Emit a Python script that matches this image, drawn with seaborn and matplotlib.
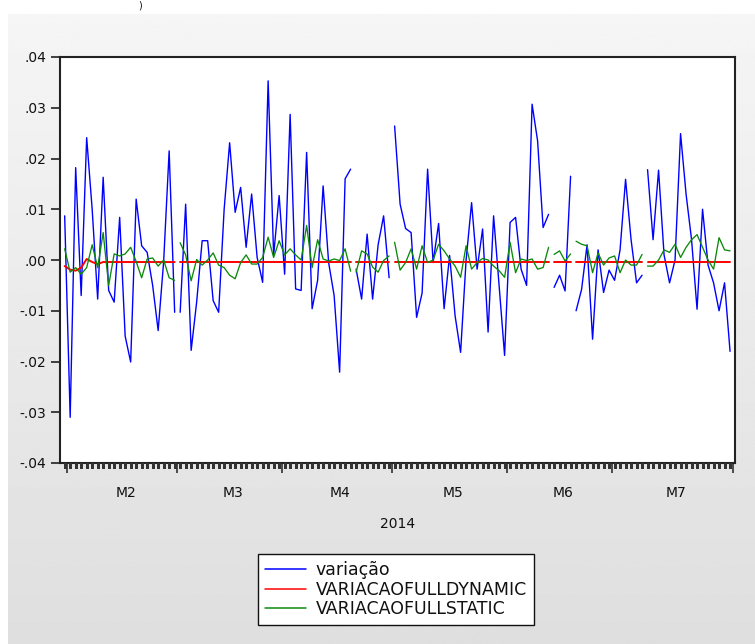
import numpy as np
import pandas as pd
import matplotlib
matplotlib.use("Agg")
import matplotlib.pyplot as plt
from matplotlib.lines import Line2D
from matplotlib.ticker import FixedLocator, FuncFormatter, NullFormatter
from matplotlib.transforms import blended_transform_factory
import seaborn as sns

sns.set_theme(style="white")
plt.rcParams["font.family"] = ["DejaVu Sans"]
plt.rcParams.update({
    "xtick.bottom": True, "ytick.left": True,
    "xtick.direction": "out", "ytick.direction": "out",
    "xtick.color": "#222222", "ytick.color": "#222222",
})

# Trading sessions (B3 calendar): weekdays minus exchange holidays
START, END = "2014-01-31", "2014-07-31"
HOLIDAYS = ["2014-03-03", "2014-03-04", "2014-04-18", "2014-04-21",
            "2014-05-01", "2014-06-12", "2014-06-19", "2014-07-09"]

SERIES = ["variação", "VARIACAOFULLDYNAMIC", "VARIACAOFULLSTATIC"]
COLORS = ["#0000ff", "#ff0000", "#0a8a0a"]
MONTH_LABELS = ["M2", "M3", "M4", "M5", "M6", "M7"]
YEAR_LABEL = "2014"
Y_TICKS = [-0.04, -0.03, -0.02, -0.01, 0.00, 0.01, 0.02, 0.03, 0.04]

# daily variation
variacao = [
    0.0087, -0.0310, 0.0182, -0.0070, 0.0241, 0.0100, -0.0077, 0.0163, -0.0060, -0.0083,
    0.0084, -0.0150, -0.0201, 0.0120, 0.0028, 0.0015, -0.0050, -0.0139, -0.0003, 0.0215,
    -0.0103,
    -0.0103, 0.0110, -0.0178, -0.0083, 0.0038, 0.0038, -0.0080, -0.0103, 0.0100, 0.0231,
    0.0094, 0.0143, 0.0025, 0.0130, 0.0005, -0.0044, 0.0353, 0.0009, 0.0127, -0.0028,
    0.0287, -0.0057, -0.0060, 0.0212, -0.0096, -0.0040, 0.0146, -0.0005, -0.0070, -0.0221,
    0.0160, 0.0179,
    -0.0018, -0.0077, 0.0051, -0.0077, 0.0030, 0.0087, -0.0035,
    0.0264, 0.0110, 0.0062, 0.0054, -0.0113, -0.0065, 0.0179, -0.0005, 0.0072, -0.0096,
    0.0009, -0.0110, -0.0182, 0.0000, 0.0113, -0.0018, 0.0061, -0.0142, 0.0087, -0.0050,
    -0.0188, 0.0074, 0.0084, -0.0018, -0.0050, 0.0307, 0.0235, 0.0064, 0.0090,
    -0.0054, -0.0030, -0.0061, 0.0165,
    -0.0100, -0.0058, 0.0030, -0.0156, 0.0020, -0.0064, -0.0020, -0.0040, 0.0020, 0.0159,
    0.0040, -0.0045, -0.0030,
    0.0178, 0.0040, 0.0177, 0.0010, -0.0045, 0.0000, 0.0249, 0.0130, 0.0040, -0.0097,
    0.0100, -0.0010, -0.0045, -0.0100, -0.0045, -0.0180,
]

# dynamic forecast
full_dynamic = [
    -0.0012, -0.0019, -0.0021, -0.0015, 0.0002, -0.0004, -0.0008, -0.0004, -0.0004, -0.0004,
    -0.0004, -0.0004, -0.0004, -0.0004, -0.0004, -0.0004, -0.0004, -0.0004, -0.0004, -0.0004,
    -0.0004,
    -0.0004, -0.0004, -0.0004, -0.0004, -0.0004, -0.0004, -0.0004, -0.0004, -0.0004, -0.0004,
    -0.0004, -0.0004, -0.0004, -0.0004, -0.0004, -0.0004, -0.0004, -0.0004, -0.0004, -0.0004,
    -0.0004, -0.0004, -0.0004, -0.0004, -0.0004, -0.0004, -0.0004, -0.0004, -0.0004, -0.0004,
    -0.0004, -0.0004,
    -0.0004, -0.0004, -0.0004, -0.0004, -0.0004, -0.0004, -0.0004,
    -0.0004, -0.0004, -0.0004, -0.0004, -0.0004, -0.0004, -0.0004, -0.0004, -0.0004, -0.0004,
    -0.0004, -0.0004, -0.0004, -0.0004, -0.0004, -0.0004, -0.0004, -0.0004, -0.0004, -0.0004,
    -0.0004, -0.0004, -0.0004, -0.0004, -0.0004, -0.0004, -0.0004, -0.0004, -0.0004,
    -0.0004, -0.0004, -0.0004, -0.0004,
    -0.0004, -0.0004, -0.0004, -0.0004, -0.0004, -0.0004, -0.0004, -0.0004, -0.0004, -0.0004,
    -0.0004, -0.0004, -0.0004,
    -0.0004, -0.0004, -0.0004, -0.0004, -0.0004, -0.0004, -0.0004, -0.0004, -0.0004, -0.0004,
    -0.0004, -0.0004, -0.0004, -0.0004, -0.0004, -0.0004,
]

# static (one-step-ahead) forecast
full_static = [
    0.0022, -0.0024, -0.0015, -0.0028, -0.0015, 0.0030, -0.0015, 0.0054, -0.0050, 0.0012,
    0.0008, 0.0012, 0.0025, -0.0003, -0.0035, 0.0002, 0.0004, -0.0012, 0.0000, -0.0035,
    -0.0040,
    0.0034, 0.0010, -0.0041, 0.0001, -0.0010, 0.0000, 0.0014, -0.0010, -0.0015, -0.0030,
    -0.0037, -0.0005, 0.0010, -0.0008, -0.0008, 0.0005, 0.0045, 0.0005, 0.0038, 0.0010,
    0.0022, 0.0010, 0.0000, 0.0068, -0.0015, 0.0040, 0.0002, -0.0002, 0.0002, -0.0001,
    0.0022, -0.0022,
    -0.0024, 0.0018, 0.0012, -0.0014, -0.0024, -0.0001, 0.0008,
    0.0035, -0.0020, -0.0005, 0.0022, -0.0018, 0.0028, -0.0005, 0.0000, 0.0031, 0.0018,
    0.0002, -0.0012, -0.0034, 0.0028, -0.0018, -0.0005, 0.0003, 0.0000, -0.0012, -0.0021,
    -0.0034, 0.0035, -0.0025, 0.0002, -0.0001, 0.0002, -0.0018, -0.0015, 0.0025,
    0.0011, 0.0018, -0.0002, 0.0012,
    0.0037, 0.0031, 0.0028, -0.0025, 0.0014, -0.0010, 0.0004, 0.0008, -0.0025, 0.0000,
    -0.0010, -0.0010, 0.0011,
    -0.0012, -0.0012, 0.0000, 0.0020, 0.0015, 0.0031, 0.0005, 0.0025, 0.0040, 0.0050,
    0.0025, 0.0000, -0.0018, 0.0044, 0.0020, 0.0018,
]

# ---- session index and line breaks at holidays ----
days = pd.bdate_range(START, END).difference(pd.DatetimeIndex(HOLIDAYS))
pos = np.arange(len(days))
d64 = days.values.astype("datetime64[D]")
skipped = np.busday_count(d64[:-1], d64[1:]) > 1
segment = np.r_[0, np.cumsum(skipped)]

frames = []
for name, vals in zip(SERIES, [variacao, full_dynamic, full_static]):
    frames.append(pd.DataFrame({"pos": pos, "value": vals, "series": name,
                                "segment": segment}))
df = pd.concat(frames, ignore_index=True)

# ---- figure ----
W, H = 755, 644
fig = plt.figure(figsize=(W / 100, H / 100), dpi=100)
fig.patch.set_facecolor("white")

# grey panel with a soft vertical gradient
bg = fig.add_axes([8 / W, 0, 1 - 8 / W, (H - 14) / H], zorder=-10)
grad = np.linspace(0.962, 0.872, 256).reshape(-1, 1)
bg.imshow(grad, aspect="auto", cmap="gray", vmin=0, vmax=1,
          extent=[0, 1, 0, 1], interpolation="bilinear")
bg.set_axis_off()

ax = fig.add_axes([60 / W, (H - 463) / H, 675 / W, 406 / H])
ax.set_facecolor("white")

widths = {"variação": 1.0, "VARIACAOFULLDYNAMIC": 1.4, "VARIACAOFULLSTATIC": 0.95}
for name, color in zip(SERIES, COLORS):
    sns.lineplot(data=df[df["series"] == name], x="pos", y="value",
                 units="segment", estimator=None, color=color,
                 linewidth=widths[name], ax=ax, legend=False)

# one short tick per session, hanging below the frame
sns.rugplot(x=pos, height=-0.0125, clip_on=False, expand_margins=False,
            color="#333333", linewidth=0.85, antialiased=False, zorder=5, ax=ax)

XLIM = (-0.85, len(days) - 0.1)
ax.set_xlim(*XLIM)
ax.set_ylim(-0.04, 0.04)
ax.set_xlabel("")
ax.set_ylabel("")

# y axis
ax.yaxis.set_major_locator(FixedLocator(Y_TICKS))
ax.yaxis.set_major_formatter(FuncFormatter(
    lambda v, _: f"{v:.2f}".replace("0.", ".", 1)))
ax.tick_params(axis="y", which="major", direction="out", length=6.5, width=1.2,
               color="#222222", labelsize=10, pad=3.5, left=True, labelcolor="#111111")

# x axis: major ticks at month boundaries
month = days.month.values
starts = np.where(np.r_[True, month[1:] != month[:-1]])[0]
boundaries = list(starts[1:] - 0.5) + [len(days) - 0.5]
ax.xaxis.set_major_locator(FixedLocator(boundaries))
ax.xaxis.set_major_formatter(NullFormatter())
ax.tick_params(axis="x", which="major", bottom=True, direction="out",
               length=7.5, width=1.1, color="#222222")

trans = blended_transform_factory(ax.transData, ax.transAxes)
for m, label in zip(range(2, 8), MONTH_LABELS):
    idx = pos[month == m]
    ax.text(idx.mean() + 0.6, -0.074, label, transform=trans, ha="center",
            va="center", fontsize=10, color="#111111")
ax.text(0.5, -0.15, YEAR_LABEL, transform=ax.transAxes, ha="center",
        va="center", fontsize=10, color="#111111")

for sp in ax.spines.values():
    sp.set_color("#222222")
    sp.set_linewidth(1.5)

# legend below the plot
handles = [Line2D([0], [0], color=c, lw=1.1) for c in COLORS]
leg = fig.legend(handles, SERIES, loc="upper center",
                 bbox_to_anchor=(396 / W, (H - 554) / H), ncol=1,
                 fontsize=12.5, frameon=True, fancybox=False, framealpha=1,
                 edgecolor="#111111", facecolor="white", handlelength=2.4,
                 handletextpad=0.55, labelspacing=0.1, borderpad=0.4,
                 borderaxespad=0)
leg.get_frame().set_linewidth(1.0)
for t in leg.get_texts():
    t.set_color("#111111")

# small glyph at the top edge
fig.text(140 / W, 1.0, ")", fontsize=7, ha="center", va="top",
         color="#111111")

fig.savefig("out.png", dpi=100, facecolor=fig.get_facecolor())
